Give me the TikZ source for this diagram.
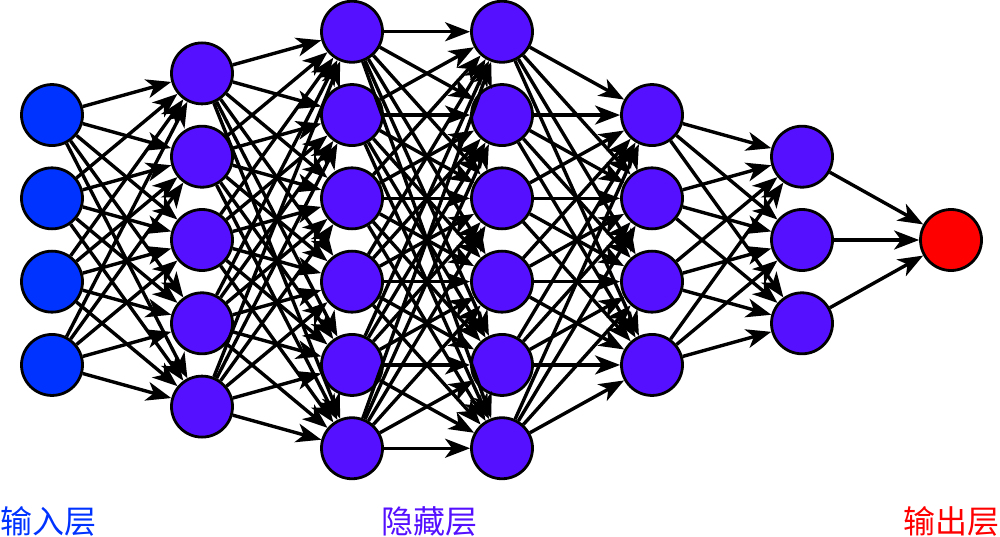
\documentclass[tikz,border=0pt]{standalone}
\usepackage{fontspec}
\newfontfamily\cjk{Noto Sans CJK SC}
\usetikzlibrary{arrows.meta}
\definecolor{inblue}{RGB}{0,51,255}
\definecolor{hidpurple}{RGB}{85,17,255}
\definecolor{outred}{RGB}{255,0,0}
\begin{document}
\begin{tikzpicture}[x=1pt,y=-1pt,
  neuron/.style={circle,draw=black,line width=2.8pt,minimum size=61pt,inner sep=0pt},
  conn/.style={line width=3.4pt,-{Stealth[length=25pt,width=19pt,inset=7pt]}},
  lbl/.style={font=\cjk\fontsize{32}{32}\selectfont,inner sep=0pt}]
\useasboundingbox (0,0) rectangle (1000,537);
% neurons
\foreach \L/\N/\X/\C in {1/4/52/inblue, 2/5/202/hidpurple, 3/6/352/hidpurple, 4/6/502/hidpurple, 5/4/652/hidpurple, 6/3/802/hidpurple, 7/1/951/outred} {
  \foreach \j in {1,...,\N} {
    \node[neuron, fill=\C] (n\L-\j) at (\X, {240 + (\j - (\N+1)/2)*83.3}) {};
  }
}
% connections
\foreach \L/\N/\M in {1/4/5, 2/5/6, 3/6/6, 4/6/4, 5/4/3, 6/3/1} {
  \pgfmathtruncatemacro\Lnext{\L+1}
  \foreach \i in {1,...,\N} {
    \foreach \j in {1,...,\M} {
      \draw[conn] (n\L-\i) -- (n\Lnext-\j);
    }
  }
}
% labels
\node[lbl, text=inblue, anchor=west] (lin) at (0,521) {输入层};
\node[lbl, text=hidpurple] (lhid) at (429,521) {隐藏层};
\node[lbl, text=outred, anchor=east] (lout) at (1000,521) {输出层};
\end{tikzpicture}
\end{document}
